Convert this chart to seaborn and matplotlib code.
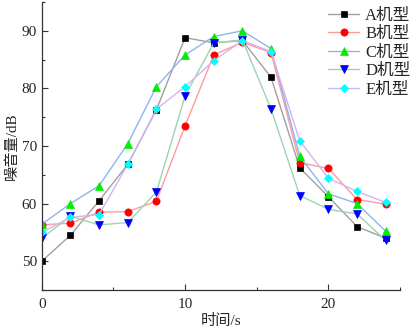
import matplotlib
matplotlib.use("Agg")
import matplotlib.pyplot as plt
import seaborn as sns
import pandas as pd
from matplotlib.ticker import MultipleLocator

sns.set_theme(style="ticks")
plt.rcParams['font.family'] = ['Liberation Serif', 'Noto Sans CJK SC']

time_s = [0, 2, 4, 6, 8, 10, 12, 14, 16, 18, 20, 22, 24]
noise_A = [50.0, 54.5, 60.5, 66.8, 76.3, 88.8, 87.9, 88.3, 81.9, 66.2, 61.2, 56.0, 54.0]
noise_B = [56.3, 56.6, 58.5, 58.6, 60.4, 73.5, 85.8, 88.0, 86.2, 67.1, 66.1, 60.7, 59.9]
noise_C = [56.4, 60.0, 63.1, 70.4, 80.3, 85.8, 89.0, 90.0, 86.9, 68.2, 61.7, 60.0, 55.2]
noise_D = [54.0, 57.8, 56.3, 56.7, 62.0, 78.7, 87.9, 88.4, 76.4, 61.4, 59.0, 58.2, 53.6]
noise_E = [55.0, 57.6, 58.1, 66.8, 76.4, 80.3, 84.8, 88.3, 86.4, 70.9, 64.4, 62.1, 60.2]
labels = ["A机型", "B机型", "C机型", "D机型", "E机型"]

series = [noise_A, noise_B, noise_C, noise_D, noise_E]
line_colors = ["#a0a0a0", "#ff9a9a", "#8fb4ee", "#9ad6b0", "#d4b4f0"]
marker_colors = ["#000000", "#ff0000", "#00ee00", "#0000ff", "#00ffff"]
markers = ["s", "o", "^", "v", "D"]
msizes = [4.5, 5.2, 5.5, 5.5, 4.5]

rows = []
for lab, vals in zip(labels, series):
    for t, v in zip(time_s, vals):
        rows.append({"time": t, "noise": v, "model": lab})
df = pd.DataFrame(rows)

fig = plt.figure(figsize=(4.18, 3.31), dpi=100)
ax = fig.add_axes([0.100, 0.124, 0.857, 0.870])

for lab, lc, mc, mk, ms in zip(labels, line_colors, marker_colors, markers, msizes):
    sub = df[df["model"] == lab]
    sns.lineplot(data=sub, x="time", y="noise", ax=ax, color=lc, linewidth=1.0,
                 marker=mk, markersize=ms, markerfacecolor=mc, markeredgecolor=mc,
                 markeredgewidth=0.5, label=lab)

ax.set_xlim(0, 25)
ax.set_ylim(45, 95)
ax.xaxis.set_major_locator(MultipleLocator(10))
ax.xaxis.set_minor_locator(MultipleLocator(5))
ax.yaxis.set_major_locator(MultipleLocator(10))
ax.yaxis.set_minor_locator(MultipleLocator(5))
ax.tick_params(which="both", direction="in", labelsize=11, width=0.8, color="#333333")
ax.tick_params(which="major", length=4)
ax.tick_params(which="minor", length=2)
ax.tick_params(axis="x", pad=6)
for s in ["top", "right"]:
    ax.spines[s].set_visible(False)
for s in ["left", "bottom"]:
    ax.spines[s].set_linewidth(0.9)
    ax.spines[s].set_color("#333333")

ax.set_xlabel("时间/s", fontsize=11, labelpad=2)
ax.set_ylabel("噪音量/dB", fontsize=11, labelpad=2)

leg = ax.legend(loc="upper right", bbox_to_anchor=(1.0, 1.0), bbox_transform=fig.transFigure,
                frameon=False, fontsize=12, handlelength=1.9, labelspacing=0.15,
                handletextpad=0.35, borderaxespad=0.0, borderpad=0.45)

fig.savefig("out.png", dpi=100)
